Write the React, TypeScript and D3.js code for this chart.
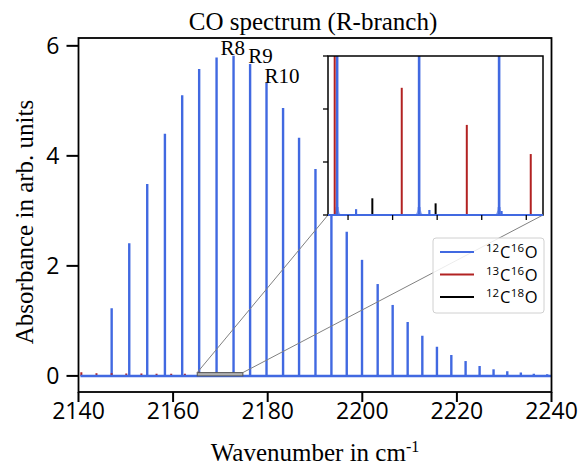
import React from "react";
import * as d3 from "d3";

// 12C16O R-branch lines (cm-1) and peak heights
const blueX = [2147.01, 2150.73, 2154.53, 2158.27, 2161.92, 2165.51, 2169.19, 2172.78, 2176.28, 2179.75,
  2183.25, 2186.63, 2190.1, 2193.47, 2196.71, 2199.94, 2203.25, 2206.42, 2209.59, 2212.69,
  2215.78, 2218.82, 2221.84, 2224.8, 2227.75, 2230.65, 2233.52, 2236.26, 2239.09];
const blueY = [1.23, 2.41, 3.49, 4.4, 5.1, 5.58, 5.79, 5.82, 5.67, 5.33,
  4.87, 4.33, 3.76, 3.17, 2.62, 2.11, 1.67, 1.29, 0.98, 0.73,
  0.53, 0.38, 0.27, 0.18, 0.12, 0.085, 0.06, 0.04, 0.03];
// weak 12C16O lines seen in the inset
const blueMinorX = [2166.36, 2169.65, 2172.89];
const blueMinorY = [0.0022, 0.0019, 0.0015];
// 13C16O
const redX = [2140.6, 2143.8, 2147.0, 2150.1, 2153.3, 2156.5, 2159.6, 2162.5, 2165.4, 2168.41, 2171.33, 2174.2, 2177.0, 2179.8, 2182.5];
const redY = [0.065, 0.05, 0.05, 0.045, 0.045, 0.04, 0.04, 0.04, 0.075, 0.048, 0.034, 0.023, 0.016, 0.011, 0.007];
// 12C18O
const blackX = [2158.5, 2161.4, 2164.25, 2167.09, 2169.93, 2172.77];
const blackY = [0.0125, 0.009, 0.0075, 0.0063, 0.0044, 0.0015];

const xTicks = [2140, 2160, 2180, 2200, 2220, 2240];
const yTicks = [0, 2, 4, 6];
const insetXTicks = [2166, 2168, 2170, 2172, 2174];
const insetYTicks = [0, 0.02, 0.04, 0.06];

const peakNames = ["R8", "R9", "R10"];
const peakNameX = [2170.0, 2175.9, 2179.3];
const peakNameY = [5.84, 5.69, 5.33];

const legendIso = [["12", "16"], ["13", "16"], ["12", "18"]];
const legendColors = ["#4169e1", "#b22222", "#000000"];

const BLUE = "#4169e1";
const RED = "#b22222";
const SERIF = "'Liberation Serif', 'Times New Roman', serif";
const SANS = "'Open Sans', 'DejaVu Sans', sans-serif";

export default function App() {
  const W = 584, H = 468;
  const x = d3.scaleLinear().domain([2140, 2240]).range([78.5, 551.5]);
  const y = d3.scaleLinear().domain([-0.2925, 6.1425]).range([392, 38]);

  const ib = { x0: 328, x1: 543, y0: 56, y1: 215 };
  const ix = d3.scaleLinear().domain([2165.1, 2174.75]).range([ib.x0, ib.x1]);
  const iy = d3.scaleLinear().domain([0, 0.06]).range([ib.y1, ib.y0]);

  const [px0, px1] = x.range();
  const [py0, py1] = y.range();

  const peaks = (xs: number[], ys: number[], sx: any, sy: any, color: string, w: number) =>
    xs.map((v, i) => (
      <line key={color + i} x1={sx(v)} x2={sx(v)} y1={sy(0)} y2={sy(ys[i])} stroke={color} strokeWidth={w} />
    ));

  const rx0 = x(ix.domain()[0]), rx1 = x(ix.domain()[1]);
  const ry0 = y(iy.domain()[1]), ry1 = y(0);

  return (
    <svg width={W} height={H} style={{ position: "absolute", left: 0, top: 0, background: "#fff" }}>
      <defs>
        <clipPath id="mainClip"><rect x={px0} y={py1} width={px1 - px0} height={py0 - py1} /></clipPath>
        <clipPath id="insetClip"><rect x={ib.x0} y={ib.y0} width={ib.x1 - ib.x0} height={ib.y1 - ib.y0 + 2} /></clipPath>
      </defs>

      <text x={313} y={30} textAnchor="middle" fontFamily={SERIF} fontSize={25}>CO spectrum (R-branch)</text>

      <g clipPath="url(#mainClip)">
        {peaks(blueX, blueY, x, y, BLUE, 2.4)}
        {peaks(redX, redY, x, y, RED, 2)}
        {peaks(blackX, blackY, x, y, "#000", 2)}
        <line x1={x(2140.4)} x2={x(2240)} y1={y(0)} y2={y(0)} stroke={BLUE} strokeWidth={2.5} />
      </g>

      {/* zoom marker */}
      <rect x={rx0} y={ry0} width={rx1 - rx0} height={ry1 - ry0} fill="#b0b0b0" stroke="#555" strokeWidth={1} />
      <line x1={rx0} y1={ry0} x2={ib.x0} y2={ib.y1} stroke="#808080" strokeWidth={1} />
      <line x1={rx1} y1={ry0} x2={ib.x1} y2={ib.y1} stroke="#808080" strokeWidth={1} />

      {/* main axes */}
      <rect x={px0} y={py1} width={px1 - px0} height={py0 - py1} fill="none" stroke="#000" strokeWidth={1.8} />
      {xTicks.map((t) => (
        <g key={"xt" + t}>
          <line x1={x(t)} x2={x(t)} y1={py0} y2={py0 + 10} stroke="#000" strokeWidth={2} />
          <text x={x(t)} y={419} textAnchor="middle" fontFamily={SANS} fontSize={23}>{t}</text>
        </g>
      ))}
      {yTicks.map((t) => (
        <g key={"yt" + t}>
          <line x1={px0 - 12} x2={px0} y1={y(t)} y2={y(t)} stroke="#000" strokeWidth={2} />
          <text x={px0 - 19} y={y(t) + 8} textAnchor="end" fontFamily={SANS} fontSize={23}>{t}</text>
        </g>
      ))}
      <text x={315} y={461} textAnchor="middle" fontFamily={SERIF} fontSize={25}>
        Wavenumber in cm<tspan dy={-9} fontSize={16}>-1</tspan>
      </text>
      <text transform={`translate(33,${(py0 + py1) / 2 + 7}) rotate(-90)`} textAnchor="middle" fontFamily={SERIF} fontSize={25}>
        Absorbance in arb. units
      </text>

      {peakNames.map((n, i) => (
        <text key={n} x={x(peakNameX[i])} y={y(peakNameY[i])} fontFamily={SERIF} fontSize={21}>{n}</text>
      ))}

      {/* inset */}
      <rect x={ib.x0} y={ib.y0} width={ib.x1 - ib.x0} height={ib.y1 - ib.y0} fill="#fff" />
      <g clipPath="url(#insetClip)">
        {peaks(blackX, blackY, ix, iy, "#000", 2)}
        {peaks(blueMinorX, blueMinorY, ix, iy, BLUE, 2.2)}
        {blueX.map((v, i) => (
          <path key={"fl" + i}
            d={`M${ix(v) - 5},${iy(0)} Q${ix(v) - 1.5},${iy(0) - 1} ${ix(v) - 1.5},${iy(0) - 8} L${ix(v) + 1.5},${iy(0) - 8} Q${ix(v) + 1.5},${iy(0) - 1} ${ix(v) + 5},${iy(0)} Z`}
            fill={BLUE} opacity={0.6} />
        ))}
        {peaks(blueX, blueY, ix, iy, BLUE, 2.6)}
        {peaks(redX, redY, ix, iy, RED, 2)}
      </g>
      <rect x={ib.x0} y={ib.y0} width={ib.x1 - ib.x0} height={ib.y1 - ib.y0} fill="none" stroke="#000" strokeWidth={1.5} />
      <line x1={ib.x0} x2={ib.x1} y1={iy(0)} y2={iy(0)} stroke={BLUE} strokeWidth={2.2} />
      {insetXTicks.map((t) => (
        <line key={"ixt" + t} x1={ix(t)} x2={ix(t)} y1={ib.y1} y2={ib.y1 + 5} stroke="#000" strokeWidth={1.3} />
      ))}
      {insetYTicks.map((t) => (
        <line key={"iyt" + t} x1={ib.x0 - 5} x2={ib.x0} y1={iy(t)} y2={iy(t)} stroke="#000" strokeWidth={1.3} />
      ))}

      {/* legend */}
      <rect x={433} y={238} width={111} height={75} rx={3} fill="#fff" fillOpacity={0.85} stroke="#d0d0d0" strokeWidth={1} />
      {legendIso.map((iso, i) => {
        const ly = 252 + i * 22.5;
        return (
          <g key={"lg" + i}>
            <line x1={440} x2={474} y1={ly} y2={ly} stroke={legendColors[i]} strokeWidth={2} />
            <text x={486} y={ly + 6} fontFamily={SANS} fontSize={16.5}>
              <tspan fontSize={11.5} dy={-6}>{iso[0]}</tspan>
              <tspan dx={0.8} dy={6}>C</tspan>
              <tspan fontSize={11.5} dx={0.5} dy={-6}>{iso[1]}</tspan>
              <tspan dx={0.8} dy={6}>O</tspan>
            </text>
          </g>
        );
      })}
    </svg>
  );
}
